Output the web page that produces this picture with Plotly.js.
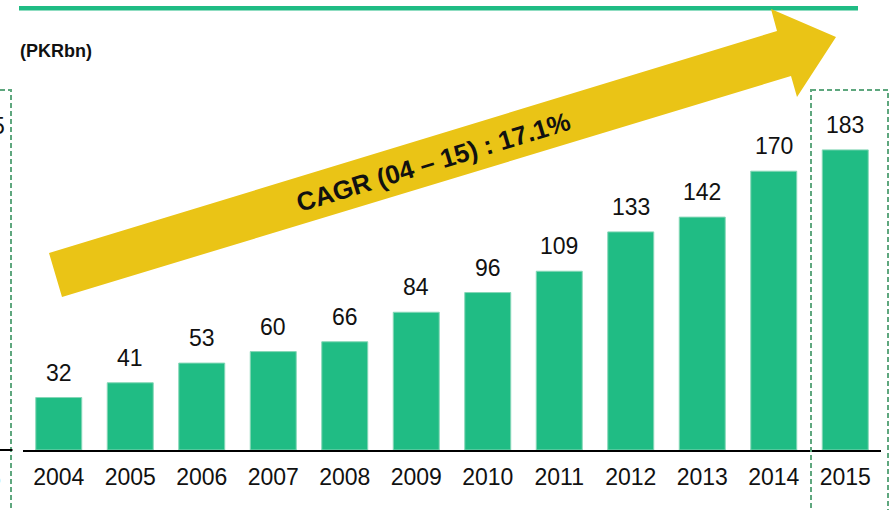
<!DOCTYPE html>
<html>
<head>
<meta charset="utf-8">
<script src="https://cdn.plot.ly/plotly-3.0.1.min.js"></script>
<style>
  html, body { margin: 0; padding: 0; background: #ffffff; }
  #chart { width: 893px; height: 510px; }
</style>
</head>
<body>
<div id="chart"></div>
<script>
// ---- data ----
const years = ['2004','2005','2006','2007','2008','2009','2010','2011','2012','2013','2014','2015'];
const revenue = [32, 41, 53, 60, 66, 84, 96, 109, 133, 142, 170, 183];
const unitLabel = '(PKRbn)';
const cagrLabel = 'CAGR (04 \u2013 15) : 17.1%';
const edgeLabels = ['5', '5'];

// ---- geometry helpers (figure pixels -> paper) ----
const W = 893, H = 510;
const px = x => x / W;
const py = y => 1 - y / H;

const FONT = 'Liberation Sans, Arial, sans-serif';
const GREEN = '#20BC84';
const DASH = '#5EA77E';
const GOLD = '#EAC416';

const trace = {
  type: 'bar',
  x: years,
  y: revenue,
  marker: { color: GREEN, line: { color: '#86D7B7', width: 1 } },
  hoverinfo: 'x+y',
  cliponaxis: false
};

const annotations = years.map((yr, i) => ({
  x: i, y: revenue[i], xref: 'x', yref: 'y',
  text: String(revenue[i]), showarrow: false,
  xanchor: 'center', yanchor: 'middle', yshift: 25,
  font: { family: FONT, size: 23, color: '#111111' }
}));

annotations.push({
  x: px(18), y: py(51), xref: 'paper', yref: 'paper',
  xanchor: 'left', yanchor: 'middle', showarrow: false,
  text: '<b>' + unitLabel + '</b>',
  font: { family: FONT, size: 18, color: '#111111' }
});

annotations.push({
  x: px(433), y: py(162), xref: 'paper', yref: 'paper',
  xanchor: 'center', yanchor: 'middle', showarrow: false,
  text: '<b>' + cagrLabel + '</b>', textangle: -17,
  font: { family: FONT, size: 26, color: '#111111' }
});

// partially cut-off labels of the neighbouring panel at the left edge
annotations.push({
  x: px(7), y: py(126), xref: 'paper', yref: 'paper',
  xanchor: 'right', yanchor: 'middle', showarrow: false,
  text: edgeLabels[0], font: { family: FONT, size: 23, color: '#111111' }
});
annotations.push({
  x: px(3), y: py(478), xref: 'paper', yref: 'paper',
  xanchor: 'right', yanchor: 'middle', showarrow: false,
  text: edgeLabels[1], font: { family: FONT, size: 23, color: '#111111' }
});

const arrowPts = [[49,253],[777,31],[771,9],[836,37],[797,97],[791,76],[62,297]];
const arrowPath = 'M ' + arrowPts.map(p => px(p[0]) + ',' + py(p[1])).join(' L ') + ' Z';

const shapes = [
  // top green rule
  { type: 'line', xref: 'paper', yref: 'paper',
    x0: px(19), x1: px(858), y0: py(8.3), y1: py(8.3),
    line: { color: GREEN, width: 4.5 } },
  // CAGR arrow
  { type: 'path', xref: 'paper', yref: 'paper', path: arrowPath,
    fillcolor: GOLD, line: { width: 0 }, layer: 'above' },
  // dashed highlight box around 2015
  { type: 'rect', xref: 'paper', yref: 'paper',
    x0: px(811), x1: px(888), y0: py(90), y1: py(530),
    line: { color: DASH, width: 2, dash: '5px,3px' }, fillcolor: 'rgba(0,0,0,0)' },
  // dashed box edge of neighbouring panel
  { type: 'rect', xref: 'paper', yref: 'paper',
    x0: px(-40), x1: px(11), y0: py(90), y1: py(530),
    line: { color: DASH, width: 2, dash: '5px,3px' }, fillcolor: 'rgba(0,0,0,0)' },
  // baseline fragment of neighbouring panel
  { type: 'line', xref: 'paper', yref: 'paper',
    x0: px(-5), x1: px(12.5), y0: py(450), y1: py(450),
    line: { color: '#000000', width: 2 } }
];

const layout = {
  width: W, height: H,
  margin: { l: 0, r: 0, t: 0, b: 0, pad: 0 },
  paper_bgcolor: '#ffffff', plot_bgcolor: '#ffffff',
  showlegend: false,
  bargap: 0.357,
  xaxis: {
    domain: [px(23), px(881)],
    type: 'category',
    range: [-0.5, 11.5],
    showline: true, linecolor: '#000000', linewidth: 2,
    ticks: '', showgrid: false, zeroline: false,
    tickfont: { family: FONT, size: 23, color: '#111111' },
    ticklabelstandoff: 5,
    fixedrange: true
  },
  yaxis: {
    domain: [1 - 450 / H, 1],
    range: [0, 450 / 1.64],
    visible: false, showgrid: false, zeroline: false,
    fixedrange: true
  },
  annotations: annotations,
  shapes: shapes,
  font: { family: FONT }
};

Plotly.newPlot('chart', [trace], layout, { displayModeBar: false, staticPlot: true });
</script>
</body>
</html>
